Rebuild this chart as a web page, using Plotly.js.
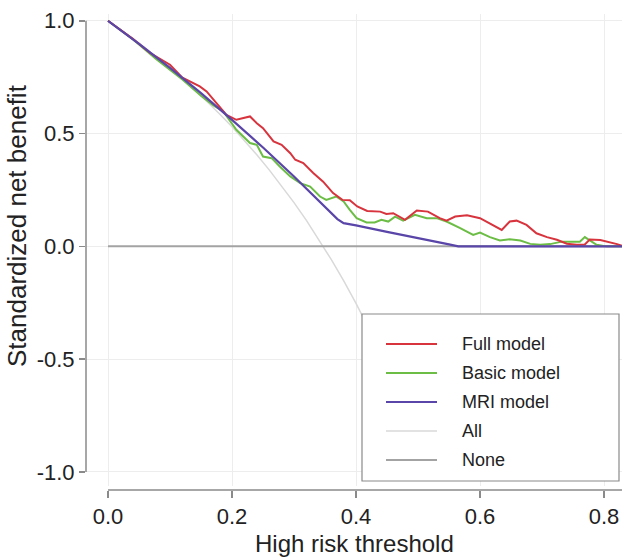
<!DOCTYPE html>
<html>
<head>
<meta charset="utf-8">
<script src="https://cdn.plot.ly/plotly-3.0.1.min.js"></script>
<style>
  html, body { margin: 0; padding: 0; background: #ffffff; }
  #chart { width: 622px; height: 559px; }
</style>
</head>
<body>
<div id="chart"></div>
<script>
// Decision curve: standardized net benefit against high risk threshold

const seriesNames = ["Full model", "Basic model", "MRI model", "All", "None"];
const seriesColors = ["#d7343e", "#6cbd45", "#5a45a8", "#d9d9d9", "#a3a3a3"];

const xTickVals = [0, 0.2, 0.4, 0.6, 0.8];
const xTickText = ["0.0", "0.2", "0.4", "0.6", "0.8"];
const yTickVals = [1, 0.5, 0, -0.5, -1];
const yTickText = ["1.0", "0.5", "0.0", "-0.5", "-1.0"];

const fullX = [0, 0.02, 0.04, 0.068, 0.10, 0.12, 0.132, 0.148, 0.159, 0.175, 0.191, 0.207,
  0.229, 0.240, 0.250, 0.267, 0.280, 0.294, 0.302, 0.315, 0.331, 0.347, 0.363, 0.378,
  0.390, 0.402, 0.418, 0.439, 0.449, 0.460, 0.479, 0.498, 0.516, 0.535, 0.546, 0.560,
  0.579, 0.600, 0.621, 0.635, 0.648, 0.659, 0.675, 0.691, 0.708, 0.724, 0.740, 0.756,
  0.769, 0.777, 0.794, 0.804, 0.821, 0.829];
const fullY = [1.0, 0.96, 0.92, 0.857, 0.805, 0.748, 0.731, 0.709, 0.687, 0.635, 0.583, 0.561,
  0.576, 0.546, 0.524, 0.465, 0.450, 0.413, 0.384, 0.369, 0.325, 0.287, 0.236, 0.206,
  0.204, 0.177, 0.157, 0.154, 0.144, 0.147, 0.118, 0.159, 0.154, 0.125, 0.114, 0.132,
  0.138, 0.125, 0.095, 0.073, 0.110, 0.114, 0.095, 0.058, 0.041, 0.029, 0.012, 0.007,
  0.008, 0.030, 0.028, 0.022, 0.010, 0.002];

const basicX = [0, 0.04, 0.078, 0.10, 0.12, 0.15, 0.17, 0.186, 0.207, 0.229, 0.240, 0.250,
  0.264, 0.277, 0.294, 0.310, 0.326, 0.342, 0.352, 0.368, 0.380, 0.390, 0.401, 0.417,
  0.430, 0.441, 0.452, 0.463, 0.476, 0.495, 0.514, 0.530, 0.546, 0.568, 0.589, 0.600,
  0.616, 0.632, 0.648, 0.665, 0.681, 0.697, 0.713, 0.732, 0.750, 0.761, 0.769, 0.777,
  0.788, 0.804, 0.829];
const basicY = [1.0, 0.918, 0.83, 0.783, 0.74, 0.668, 0.625, 0.598, 0.517, 0.458, 0.450, 0.398,
  0.391, 0.354, 0.310, 0.280, 0.265, 0.221, 0.206, 0.221, 0.199, 0.162, 0.125, 0.106,
  0.106, 0.118, 0.110, 0.132, 0.114, 0.140, 0.125, 0.125, 0.110, 0.081, 0.051, 0.061,
  0.041, 0.026, 0.032, 0.026, 0.011, 0.007, 0.010, 0.021, 0.021, 0.021, 0.041, 0.026,
  0.007, 0.0, 0.0];

const mriX = [0, 0.05, 0.10, 0.15, 0.20, 0.25, 0.30, 0.35, 0.37, 0.38, 0.40, 0.45, 0.50,
  0.55, 0.565, 0.60, 0.70, 0.80, 0.829];
const mriY = [1.0, 0.898, 0.791, 0.679, 0.561, 0.438, 0.310, 0.176, 0.121, 0.103, 0.093,
  0.064, 0.038, 0.009, 0.0, 0.0, 0.0, 0.0, 0.0];

const allX = [0, 0.02, 0.04, 0.06, 0.08, 0.10, 0.12, 0.14, 0.16, 0.18, 0.20, 0.22, 0.24,
  0.26, 0.28, 0.30, 0.32, 0.34, 0.36, 0.38, 0.40, 0.42, 0.44, 0.46, 0.48, 0.50];
const allY = [1.0, 0.962, 0.922, 0.880, 0.836, 0.791, 0.744, 0.694, 0.642, 0.587, 0.530,
  0.470, 0.406, 0.339, 0.269, 0.194, 0.115, 0.031, -0.058, -0.152, -0.253, -0.361,
  -0.477, -0.602, -0.735, -0.880];

const noneX = [0, 0.829];
const noneY = [0, 0];

// Page geometry (pixels)
const W = 622, H = 559;
const M = { l: 86, r: 0, t: 14, b: 69 };
const plotW = W - M.l - M.r;
const plotH = H - M.t - M.b;
const px2paperX = px => (px - M.l) / plotW;
const px2paperY = py => (H - M.b - py) / plotH;

const FONT = "Liberation Sans, Arial, Helvetica, sans-serif";
const TEXT = "#222222";
const AXIS = "#8a8a8a";
const GRID = "#ededed";

function lineTrace(x, y, i, width) {
  return {
    type: "scatter", mode: "lines", name: seriesNames[i],
    x: x, y: y,
    line: { color: seriesColors[i], width: width },
    hoverinfo: "skip"
  };
}

const traces = [
  lineTrace(allX, allY, 3, 1.5),
  lineTrace(noneX, noneY, 4, 2),
  lineTrace(basicX, basicY, 1, 2),
  lineTrace(fullX, fullY, 0, 2),
  lineTrace(mriX, mriY, 2, 2.2)
];

// Axis lines: y axis spans its labelled range, x axis starts at zero
const shapes = [
  { type: "line", xref: "paper", yref: "y", x0: 0, x1: 0, y0: -1, y1: 1,
    line: { color: AXIS, width: 1.5 } },
  { type: "line", xref: "paper", yref: "paper", x0: px2paperX(108), x1: 1, y0: 0, y1: 0,
    line: { color: AXIS, width: 1.5 } }
];

// Legend box inside the plot
const legBox = { x0: 362, x1: 619, y0: 314, y1: 481 };
shapes.push({
  type: "rect", xref: "paper", yref: "paper", layer: "above",
  x0: px2paperX(legBox.x0), x1: px2paperX(legBox.x1),
  y0: px2paperY(legBox.y1), y1: px2paperY(legBox.y0),
  fillcolor: "#ffffff", line: { color: AXIS, width: 1.2 }
});

const legRows = [344, 373, 402, 431, 460];
const legWidths = [2, 2, 2.2, 1.5, 2];
const annotations = [];
legRows.forEach((ry, i) => {
  shapes.push({
    type: "line", xref: "paper", yref: "paper", layer: "above",
    x0: px2paperX(386), x1: px2paperX(437), y0: px2paperY(ry), y1: px2paperY(ry),
    line: { color: seriesColors[i], width: legWidths[i] }
  });
  annotations.push({
    xref: "paper", yref: "paper", x: px2paperX(460), y: px2paperY(ry),
    xanchor: "left", yanchor: "middle", showarrow: false,
    text: seriesNames[i], font: { family: FONT, size: 18, color: TEXT }
  });
});

// Axis titles
annotations.push({
  xref: "paper", yref: "paper", x: px2paperX(354), y: px2paperY(543),
  xanchor: "center", yanchor: "middle", showarrow: false,
  text: "High risk threshold", font: { family: FONT, size: 24, color: TEXT }
});
annotations.push({
  xref: "paper", yref: "paper", x: px2paperX(17), y: px2paperY(226),
  xanchor: "center", yanchor: "middle", showarrow: false, textangle: -90,
  text: "Standardized net benefit", font: { family: FONT, size: 26, color: TEXT }
});

const layout = {
  width: W, height: H,
  margin: { l: M.l, r: M.r, t: M.t, b: M.b, pad: 0 },
  paper_bgcolor: "#ffffff", plot_bgcolor: "#ffffff",
  showlegend: false,
  xaxis: {
    range: [-0.0355, 0.829], anchor: "free", position: 0,
    tickmode: "array", tickvals: xTickVals, ticktext: xTickText,
    ticks: "outside", ticklen: 7, tickwidth: 1.5, tickcolor: AXIS,
    showgrid: true, gridcolor: GRID, gridwidth: 1,
    zeroline: false, showline: false,
    tickfont: { family: FONT, size: 22, color: TEXT }
  },
  yaxis: {
    range: [-1.06, 1.03], domain: [px2paperY(485.5), 1],
    tickmode: "array", tickvals: yTickVals, ticktext: yTickText,
    ticks: "outside", ticklen: 6, tickwidth: 1.5, tickcolor: AXIS,
    showgrid: true, gridcolor: GRID, gridwidth: 1,
    zeroline: false, showline: false,
    tickfont: { family: FONT, size: 22, color: TEXT }
  },
  shapes: shapes,
  annotations: annotations
};

Plotly.newPlot("chart", traces, layout, { staticPlot: true, displayModeBar: false });
</script>
</body>
</html>
